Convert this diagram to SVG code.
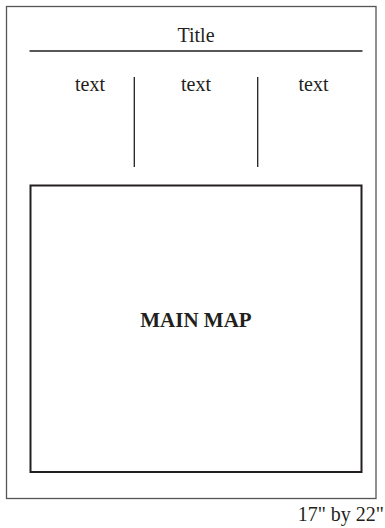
<svg xmlns="http://www.w3.org/2000/svg" width="385" height="528" viewBox="0 0 385 528">
<style>
.t{font-family:"Liberation Serif","Times New Roman",serif;font-size:20px;fill:#231f20}
.b{font-weight:bold;font-size:21px}
.ln{stroke:#231f20;stroke-width:1.3;fill:none}
</style>
<rect x="0" y="0" width="385" height="528" fill="#fff"/>
<g id="page"><rect x="6.5" y="6.5" width="369.5" height="492" fill="none" stroke="#555" stroke-width="1.3"/></g>
<g id="title"><text class="t" x="196" y="42" text-anchor="middle">Title</text></g>
<g id="connectors">
<line class="ln" x1="29.5" y1="51" x2="362.5" y2="51"/>
<line class="ln" x1="134.3" y1="77" x2="134.3" y2="167"/>
<line class="ln" x1="257.7" y1="77" x2="257.7" y2="167"/>
</g>
<g id="text1"><text class="t" x="90" y="91" text-anchor="middle">text</text></g>
<g id="text2"><text class="t" x="196" y="91" text-anchor="middle">text</text></g>
<g id="text3"><text class="t" x="313.5" y="91" text-anchor="middle">text</text></g>
<g id="mainmap">
<rect x="30.5" y="185.5" width="331" height="286.5" fill="none" stroke="#231f20" stroke-width="2"/>
<text class="t b" x="196" y="327" text-anchor="middle">MAIN MAP</text>
</g>
<g id="size"><text class="t" x="384" y="521" text-anchor="end">17" by 22"</text></g>
</svg>
